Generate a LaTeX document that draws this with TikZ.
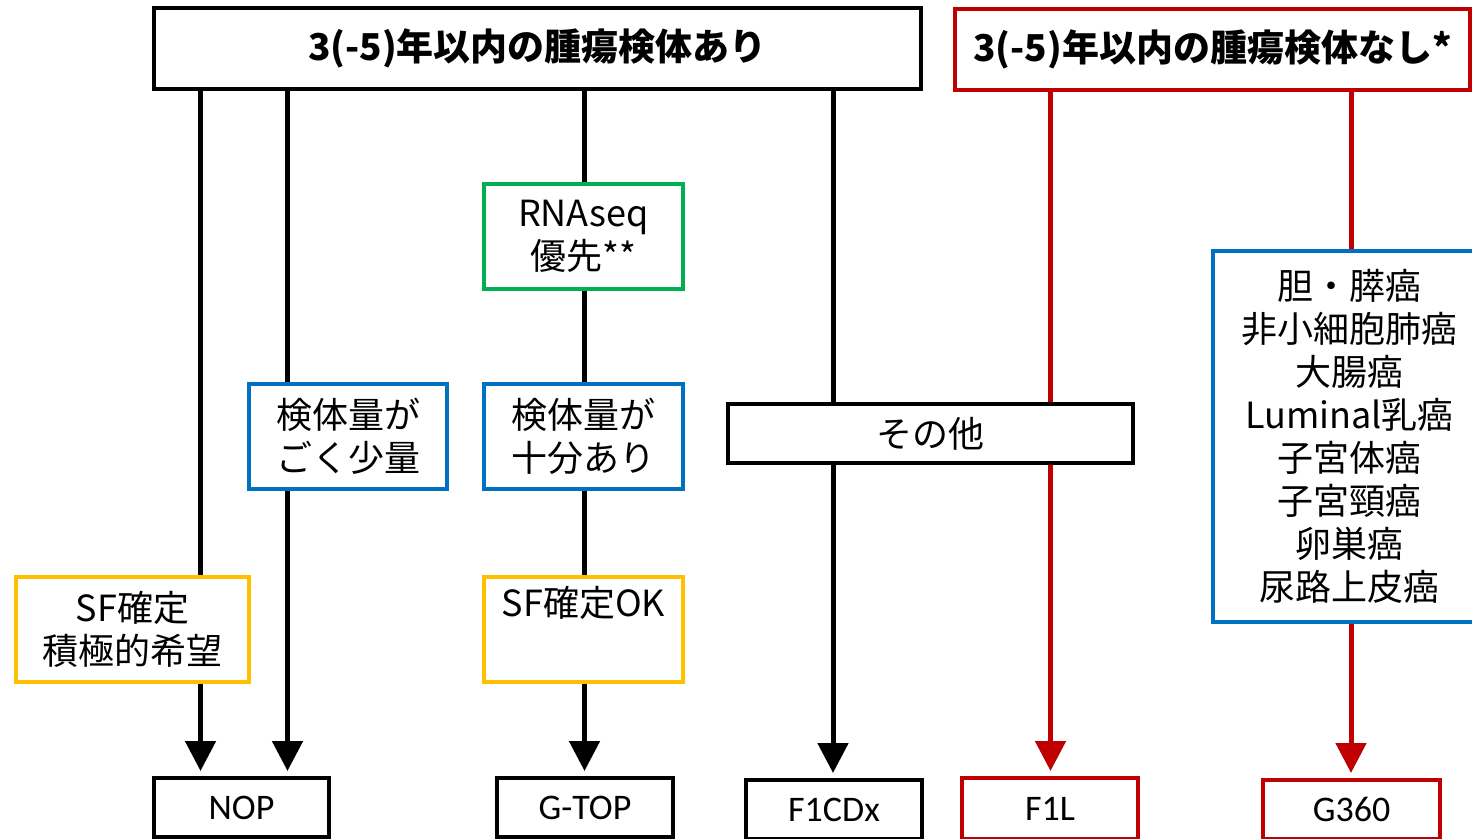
\documentclass[tikz,border=0pt]{standalone}
\usepackage{fontspec}
\setmainfont{Noto Sans CJK JP}
\newfontfamily\latfont{Carlito}
\usetikzlibrary{arrows.meta}
\pgfdeclarelayer{bg}
\pgfsetlayers{bg,main}
\definecolor{cred}{HTML}{C00000}
\definecolor{cblue}{HTML}{0070C0}
\definecolor{cgreen}{HTML}{00B050}
\definecolor{cyellow}{HTML}{FFC000}
\begin{document}
\begin{tikzpicture}[x=0.5pt,y=-0.5pt,
  box/.style={draw, line width=2pt, fill=white, inner sep=0pt, align=center,
    font=\fontsize{18}{21.5}\selectfont},
  cbox/.style={box, line width=1.75pt},
  hdr/.style={box, font=\fontsize{18.5}{22}\selectfont\bfseries},
  endbox/.style={box, font=\latfont\fontsize{18}{21.5}\selectfont},
  conn/.style={line width=2.5pt},
  arr/.style={conn, -{Triangle[length=15pt,width=15pt]}, shorten >=2.5pt}]
\useasboundingbox (0,0) rectangle (1472,839);
\clip (0,0) rectangle (1472,839);
% header boxes
\node[hdr, minimum width=383.5pt, minimum height=40.5pt] (top) at (537.5,48.5) {3(-5)年以内の腫瘍検体あり};
\node[hdr, draw=cred, minimum width=257.5pt, minimum height=40.5pt] (topr) at (1212.5,49.5) {3(-5)年以内の腫瘍検体なし*};
% middle boxes
\node[cbox, draw=cgreen, minimum width=99.5pt, minimum height=52.5pt] (rna) at (583.5,236.5) {RNAseq\\優先**};
\node[cbox, draw=cblue, minimum width=99pt, minimum height=52.5pt] (few) at (348,436.5) {検体量が\\ごく少量};
\node[cbox, draw=cblue, minimum width=99.5pt, minimum height=52.5pt] (enough) at (583.5,436.5) {検体量が\\十分あり};
\node[cbox, draw=cyellow, minimum width=116.5pt, minimum height=52.5pt] (sf) at (132.5,629.5) {SF確定\\積極的希望};
\node[cbox, draw=cyellow, minimum width=99.5pt, minimum height=52.5pt] (sfok) at (583.5,629.5) {SF確定OK\\\strut};
\node[box, minimum width=202.5pt, minimum height=29.5pt] (other) at (930.5,433.5) {その他};
\node[cbox, draw=cblue, minimum width=136.5pt, minimum height=185.5pt] (cancer) at (1349.5,436.5)
  {胆・膵癌\\非小細胞肺癌\\大腸癌\\Luminal乳癌\\子宮体癌\\子宮頸癌\\卵巣癌\\尿路上皮癌};
% end boxes
\node[endbox, minimum width=87.5pt, minimum height=29.5pt] (nop) at (241.5,807.5) {NOP};
\node[endbox, minimum width=88pt, minimum height=29.5pt] (gtop) at (585,807.5) {G-TOP};
\node[endbox, minimum width=88pt, minimum height=29.5pt] (f1cdx) at (834,809.5) {F1CDx};
\node[endbox, draw=cred, minimum width=88pt, minimum height=30.5pt] (f1l) at (1050,808.5) {F1L};
\node[endbox, draw=cred, minimum width=88.5pt, minimum height=29.5pt] (g360) at (1351.5,809.5) {G360};
% connector columns
\coordinate (c1) at (200.5,0);
\coordinate (c2) at (287.5,0);
\coordinate (c3) at (584.5,0);
\coordinate (c4) at (833,0);
\coordinate (c5) at (1050.5,0);
\coordinate (c6) at (1351,0);
\begin{pgfonlayer}{bg}
\fill[white] (0,0) rectangle (1472,839);
\draw[conn] (top.south -| c1) -- (sf.north -| c1);
\draw[arr] (sf.south -| c1) -- (nop.north -| c1);
\draw[conn] (top.south -| c2) -- (few.north -| c2);
\draw[arr] (few.south -| c2) -- (nop.north -| c2);
\draw[conn] (top.south -| c3) -- (rna.north -| c3);
\draw[conn] (rna.south -| c3) -- (enough.north -| c3);
\draw[conn] (enough.south -| c3) -- (sfok.north -| c3);
\draw[arr] (sfok.south -| c3) -- (gtop.north -| c3);
\draw[conn] (top.south -| c4) -- (other.north -| c4);
\draw[arr] (other.south -| c4) -- (f1cdx.north -| c4);
\draw[arr, cred] (topr.south -| c5) -- (f1l.north -| c5);
\draw[conn, cred] (topr.south -| c6) -- (cancer.north -| c6);
\draw[arr, cred] (cancer.south -| c6) -- (g360.north -| c6);
\end{pgfonlayer}
\end{tikzpicture}
\end{document}
